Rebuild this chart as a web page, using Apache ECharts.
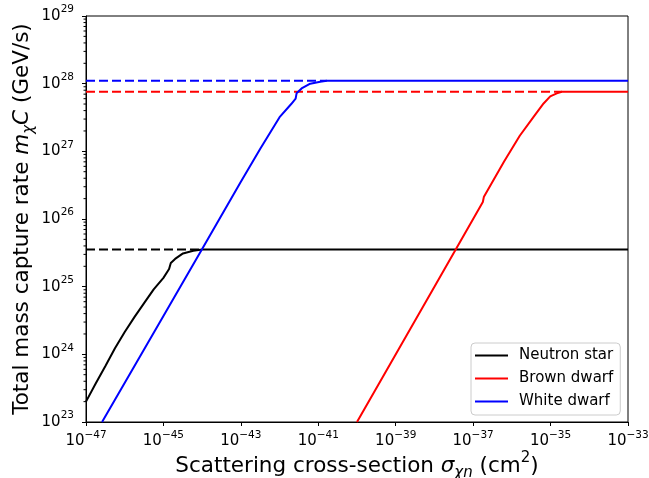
<!DOCTYPE html>
<html>
<head>
<meta charset="utf-8">
<script src="https://cdn.jsdelivr.net/npm/echarts@6/dist/echarts.min.js"></script>
<style>
  html, body { margin: 0; padding: 0; background: #fff; }
  #chart { width: 649px; height: 478px; }
</style>
</head>
<body>
<div id="chart"></div>
<script>
// Capture rate vs. DM-nucleon scattering cross-section (log-log)
const seriesNames = ['Neutron star', 'Brown dwarf', 'White dwarf'];

// Neutron star
const neutronX = [1e-47, 1.78e-47, 3.2e-47, 5.6e-47, 1e-46, 1.78e-46, 3.2e-46, 5.6e-46, 1e-45, 1.4e-45, 1.55e-45, 2.0e-45, 3.2e-45, 5.9e-45, 1e-44, 1e-33];
const neutronY = [2.0e23, 3.7e23, 6.8e23, 1.23e24, 2.14e24, 3.55e24, 5.75e24, 9.1e24, 1.35e25, 1.82e25, 2.24e25, 2.57e25, 3.1e25, 3.4e25, 3.55e25, 3.55e25];
const neutronMax = 3.55e25;

// Brown dwarf
const brownX = [1e-40, 1e-38, 1e-37, 1.78e-37, 1.9e-37, 6.3e-37, 1.6e-36, 3.6e-36, 6.6e-36, 9.8e-36, 1.45e-35, 1.95e-35, 1e-33];
const brownY = [1e23, 1e25, 1e26, 1.78e26, 2.14e26, 7.1e26, 1.7e27, 3.2e27, 5.1e27, 6.5e27, 7.2e27, 7.6e27, 7.6e27];
const brownMax = 7.6e27;

// White dwarf
const whiteX = [2.6e-47, 1e-45, 1e-44, 1e-43, 3.2e-43, 1e-42, 2.0e-42, 2.6e-42, 2.75e-42, 3.7e-42, 6.2e-42, 1.12e-41, 1.66e-41, 1e-33];
const whiteY = [1e23, 3.7e24, 3.6e25, 3.55e26, 1.1e27, 3.2e27, 5.0e27, 6.0e27, 7.2e27, 8.5e27, 1.0e28, 1.07e28, 1.1e28, 1.1e28];
const whiteMax = 1.1e28;

// Axis ranges (decades)
const xMin = 1e-47, xMax = 1e-33;
const yMin = 1e23, yMax = 1e29;

const colors = { neutron: '#000000', brown: '#ff0000', white: '#0000ff' };
const FONT = 'DejaVu Sans';

// both axes are logarithmic: values are placed by their base-10 exponent
const lg = Math.log10;
function pairs(xs, ys) { return xs.map((x, i) => [lg(x), lg(ys[i])]); }

// minor ticks of the log y axis (2..9 × 10^k)
const yMinorTicks = [];
for (let e = 23; e < 29; e++) {
  for (let m = 2; m <= 9; m++) yMinorTicks.push([lg(xMin), lg(m * Math.pow(10, e))]);
}

function powLabel(e) {
  const n = Math.round(e);
  return '{b|10}{s|' + String(n).replace('-', '\u2212') + '}';
}

const tickRich = {
  b: { fontFamily: FONT, fontSize: 15, color: '#000', lineHeight: 24 },
  s: { fontFamily: FONT, fontSize: 10.5, color: '#000', lineHeight: 10, verticalAlign: 'top' }
};

const nameRich = {
  t: { fontFamily: FONT, fontSize: 21.5, color: '#000', lineHeight: 30 },
  i: { fontFamily: FONT, fontSize: 21.5, color: '#000', lineHeight: 30, fontStyle: 'italic' },
  sub: { fontFamily: FONT, fontSize: 15, color: '#000', lineHeight: 20, verticalAlign: 'bottom', fontStyle: 'italic' },
  sup: { fontFamily: FONT, fontSize: 15, color: '#000', lineHeight: 17, verticalAlign: 'top' }
};

function dashed(name, data, color) {
  return {
    type: 'line', name: name, data: data, symbol: 'none', silent: true,
    lineStyle: { color: color, width: 2, type: [9, 4] }, z: 2
  };
}
function solid(name, data, color) {
  return {
    type: 'line', name: name, data: data, symbol: 'none', silent: true,
    lineStyle: { color: color, width: 2 }, itemStyle: { color: color }, z: 3
  };
}

const chart = echarts.init(document.getElementById('chart'), null, { renderer: 'canvas' });
chart.setOption({
  animation: false,
  backgroundColor: '#ffffff',
  grid: {
    left: 86, right: 21, top: 16, bottom: 56,
    containLabel: false, outerBoundsMode: 'none',
    show: true, borderColor: '#000', borderWidth: 1, backgroundColor: 'transparent'
  },
  legend: {
    data: seriesNames,
    orient: 'vertical',
    left: 471, top: 343,
    padding: [5, 7, 6, 4],
    icon: 'rect',
    itemWidth: 33, itemHeight: 2, itemGap: 8,
    backgroundColor: 'rgba(255,255,255,0.8)',
    borderColor: '#cccccc', borderWidth: 1, borderRadius: 4,
    textStyle: { fontFamily: FONT, fontSize: 15, color: '#000', lineHeight: 15, padding: [0, 0, 0, 6] }
  },
  xAxis: {
    type: 'value', min: lg(xMin), max: lg(xMax), interval: 2,
    name: '{t|Scattering cross-section }{i|\u03c3}{sub|\u03c7n}{t| (cm}{sup|2}{t|)}',
    nameLocation: 'middle', nameGap: 29, nameMoveOverlap: false,
    nameTextStyle: { rich: nameRich },
    axisLine: { show: true, lineStyle: { color: '#000', width: 1 } },
    axisTick: { show: true, inside: false, length: 4, lineStyle: { color: '#000', width: 1 } },
    axisLabel: { formatter: powLabel, margin: 7.5, rich: tickRich },
    splitLine: { show: false },
    minorTick: { show: false }
  },
  yAxis: {
    type: 'value', min: lg(yMin), max: lg(yMax), interval: 1,
    name: '{t|Total mass capture rate }{i|m}{sub|\u03c7}{i|C}{t| (GeV/s)}',
    nameLocation: 'middle', nameGap: 49, nameMoveOverlap: false,
    nameTextStyle: { rich: nameRich },
    axisLine: { show: true, lineStyle: { color: '#000', width: 1 } },
    axisTick: { show: true, inside: false, length: 4, lineStyle: { color: '#000', width: 1 } },
    axisLabel: { formatter: powLabel, margin: 12, rich: tickRich },
    splitLine: { show: false },
    minorTick: { show: false }
  },
  series: [
    dashed('nsMax', [[lg(xMin), lg(neutronMax)], [-44, lg(neutronMax)]], colors.neutron),
    dashed('bdMax', [[lg(xMin), lg(brownMax)], [lg(1.95e-35), lg(brownMax)]], colors.brown),
    dashed('wdMax', [[lg(xMin), lg(whiteMax)], [lg(1.66e-41), lg(whiteMax)]], colors.white),
    solid(seriesNames[0], pairs(neutronX, neutronY), colors.neutron),
    solid(seriesNames[1], pairs(brownX, brownY), colors.brown),
    solid(seriesNames[2], pairs(whiteX, whiteY), colors.white),
    {
      type: 'custom', name: 'yMinor', silent: true, clip: false,
      data: yMinorTicks,
      renderItem: function (params, api) {
        const p = api.coord([api.value(0), api.value(1)]);
        return {
          type: 'line',
          shape: { x1: p[0] - 2.5, y1: p[1], x2: p[0], y2: p[1] },
          style: { stroke: '#000', lineWidth: 1 }
        };
      }
    }
  ]
});
</script>
</body>
</html>
